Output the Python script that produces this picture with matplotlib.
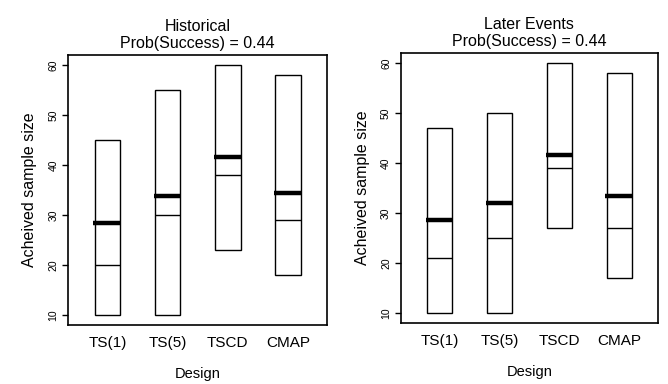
import matplotlib
matplotlib.use('Agg')
import matplotlib.pyplot as plt
import numpy as np

plt.rcParams['font.family'] = ['Liberation Sans', 'DejaVu Sans']

designs = ['TS(1)', 'TS(5)', 'TSCD', 'CMAP']

# Historical
hist_min = [10, 10, 23, 18]
hist_max = [45, 55, 60, 58]
hist_median = [20, 30, 38, 29]
hist_mean = [28.3, 33.7, 41.5, 34.4]

# Later Events
later_min = [10, 10, 27, 17]
later_max = [47, 50, 60, 58]
later_median = [21, 25, 39, 27]
later_mean = [28.5, 32.0, 41.5, 33.4]

panels = [
    ('Historical\nProb(Success) = 0.44', hist_min, hist_max, hist_median, hist_mean,
     [0.102, 0.154, 0.388, 0.703]),
    ('Later Events\nProb(Success) = 0.44', later_min, later_max, later_median, later_mean,
     [0.600, 0.159, 0.385, 0.703]),
]

fig = plt.figure(figsize=(6.68, 3.84), dpi=100)
for title, lo, hi, med, mean, rect in panels:
    ax = fig.add_axes(rect)
    x = np.arange(1, len(designs) + 1)
    lo, hi = np.array(lo), np.array(hi)
    ax.bar(x, hi - lo, bottom=lo, width=0.42, fill=False, edgecolor='black', linewidth=1.0)
    ax.hlines(med, x - 0.21, x + 0.21, color='black', linewidth=1.0)
    ax.hlines(mean, x - 0.23, x + 0.23, color='black', linewidth=3.2)
    ax.set_xlim(0.35, 4.65)
    ax.set_ylim(8, 62)
    ax.set_xticks(x)
    ax.set_xticklabels(designs, fontsize=11)
    ax.tick_params(axis='x', length=0, pad=8)
    ax.set_yticks([10, 20, 30, 40, 50, 60])
    ax.tick_params(axis='y', length=4, width=1.0, labelsize=7.5, labelrotation=90, pad=3)
    for lab in ax.get_yticklabels():
        lab.set_va('center')
    for s in ax.spines.values():
        s.set_linewidth(1.2)
    ax.set_title(title, fontsize=11.5, pad=5, linespacing=1.2)
    ax.set_xlabel('Design', fontsize=10.5, labelpad=12)
    ax.set_ylabel('Acheived sample size', fontsize=11.5, labelpad=8)

fig.savefig('out.png', dpi=100)
